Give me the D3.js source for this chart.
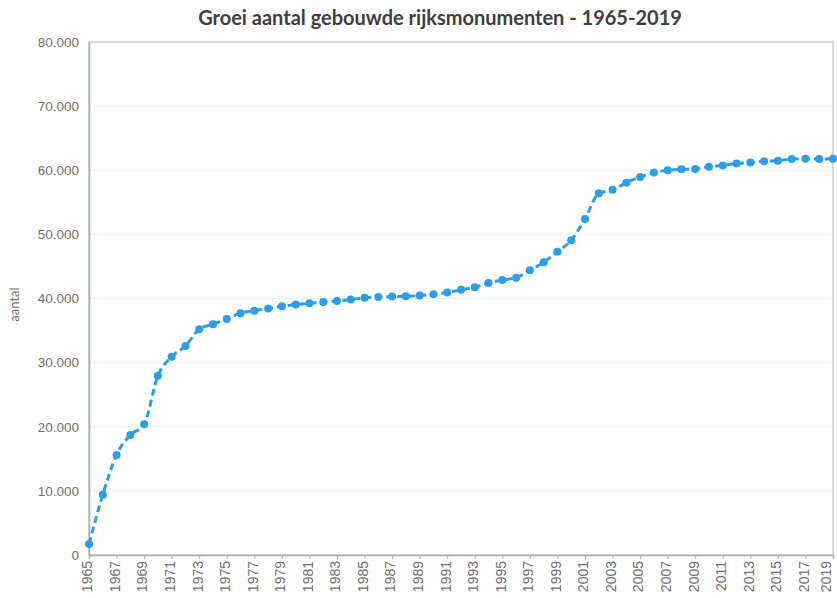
<!DOCTYPE html>
<html>
<head>
<meta charset="utf-8">
<script src="https://cdn.jsdelivr.net/npm/d3@7"></script>
<style>
  body { margin: 0; background: #fff; }
  svg { font-family: Lato, "Open Sans", Arial, sans-serif; }
</style>
</head>
<body>
<div id="chart"></div>
<script>
// jaren en aantallen
var years = d3.range(1965, 2020);
var counts = [
  1700, 9400, 15600, 18700, 20400, 27950, 30900, 32600, 35200, 36000,
  36800, 37700, 38100, 38450, 38800, 39050, 39250, 39450, 39600, 39850,
  40100, 40250, 40300, 40350, 40450, 40650, 40950, 41350, 41750, 42400,
  42900, 43250, 44400, 45650, 47300, 49100, 52400, 56400, 56950, 58050,
  58950, 59650, 60000, 60150, 60200, 60550, 60750, 61050, 61200, 61400,
  61500, 61750, 61800, 61750, 61800
];
var yTicks = [0, 10000, 20000, 30000, 40000, 50000, 60000, 70000, 80000];
var xTickYears = d3.range(1965, 2020, 2);

var data = years.map(function (y, i) { return { year: y, value: counts[i] }; });

var margin = {top: 42, right: 4, bottom: 43, left: 89},
    width = 837 - margin.left - margin.right,
    height = 598 - margin.top - margin.bottom;

var svg = d3.select("#chart").append("svg")
    .attr("width", 837)
    .attr("height", 598);

var g = svg.append("g")
    .attr("transform", "translate(" + margin.left + "," + margin.top + ")");

var x = d3.scaleLinear()
    .domain([1965, 2019])
    .range([0, width]);

var y = d3.scaleLinear()
    .domain([0, 80000])
    .range([height, 0]);

var fmt = function (d) { return d3.format(",")(d).replace(/,/g, "."); };

// gridlines
g.append("g")
    .selectAll("line")
    .data(yTicks.slice(1, -1))
    .enter().append("line")
    .attr("x1", 0)
    .attr("x2", width)
    .attr("y1", function (d) { return y(d); })
    .attr("y2", function (d) { return y(d); })
    .style("stroke", "#e8f2f9")
    .style("stroke-width", 1);

// frame
g.append("rect")
    .attr("width", width)
    .attr("height", height)
    .style("fill", "none")
    .style("stroke", "#c8cbcd")
    .style("stroke-width", 1.5);

// Y axis
var yAxis = d3.axisLeft(y)
    .tickValues(yTicks)
    .tickSize(0)
    .tickPadding(10)
    .tickFormat(fmt);

var ya = g.append("g").call(yAxis);
ya.select(".domain").style("stroke", "#a9adb0").style("stroke-width", 1.5);
ya.selectAll("text")
    .style("font-size", "13.5px")
    .style("fill", "#707070");

// X axis
var xAxis = d3.axisBottom(x)
    .tickValues(xTickYears)
    .tickSize(4)
    .tickFormat(d3.format("d"));

var xa = g.append("g")
    .attr("transform", "translate(0," + height + ")")
    .call(xAxis);
xa.select(".domain").style("stroke", "#a9adb0").style("stroke-width", 1.5);
xa.selectAll(".tick line").style("stroke", "#a9adb0");
xa.selectAll("text")
    .attr("transform", "rotate(-90)")
    .attr("x", -6)
    .attr("y", 0)
    .attr("dy", function (d) { return d === 2019 ? "-0.15em" : "0.2em"; })
    .style("text-anchor", "end")
    .style("font-size", "14px")
    .style("fill", "#707070");

// line
var line = d3.line()
    .x(function (d) { return x(d.year); })
    .y(function (d) { return y(d.value); })
    .curve(d3.curveMonotoneX);

g.append("path")
    .datum(data)
    .attr("d", line)
    .style("fill", "none")
    .style("stroke", "#2a9ee9")
    .style("stroke-width", 3)
    .style("stroke-dasharray", "7,4");

g.selectAll(".dot")
    .data(data)
    .enter().append("circle")
    .attr("class", "dot")
    .attr("cx", function (d) { return x(d.year); })
    .attr("cy", function (d) { return y(d.value); })
    .attr("r", 4)
    .style("fill", "#2a9ee9");

// title
svg.append("text")
    .attr("x", 440)
    .attr("y", 25)
    .attr("text-anchor", "middle")
    .style("font-size", "20px")
    .style("font-weight", "bold")
    .style("fill", "#404040")
    .text("Groei aantal gebouwde rijksmonumenten - 1965-2019");

// y label
svg.append("text")
    .attr("transform", "translate(19," + (margin.top + height / 2 + 6) + ") rotate(-90)")
    .attr("text-anchor", "middle")
    .style("font-size", "13px")
    .style("fill", "#707070")
    .text("aantal");
</script>
</body>
</html>
